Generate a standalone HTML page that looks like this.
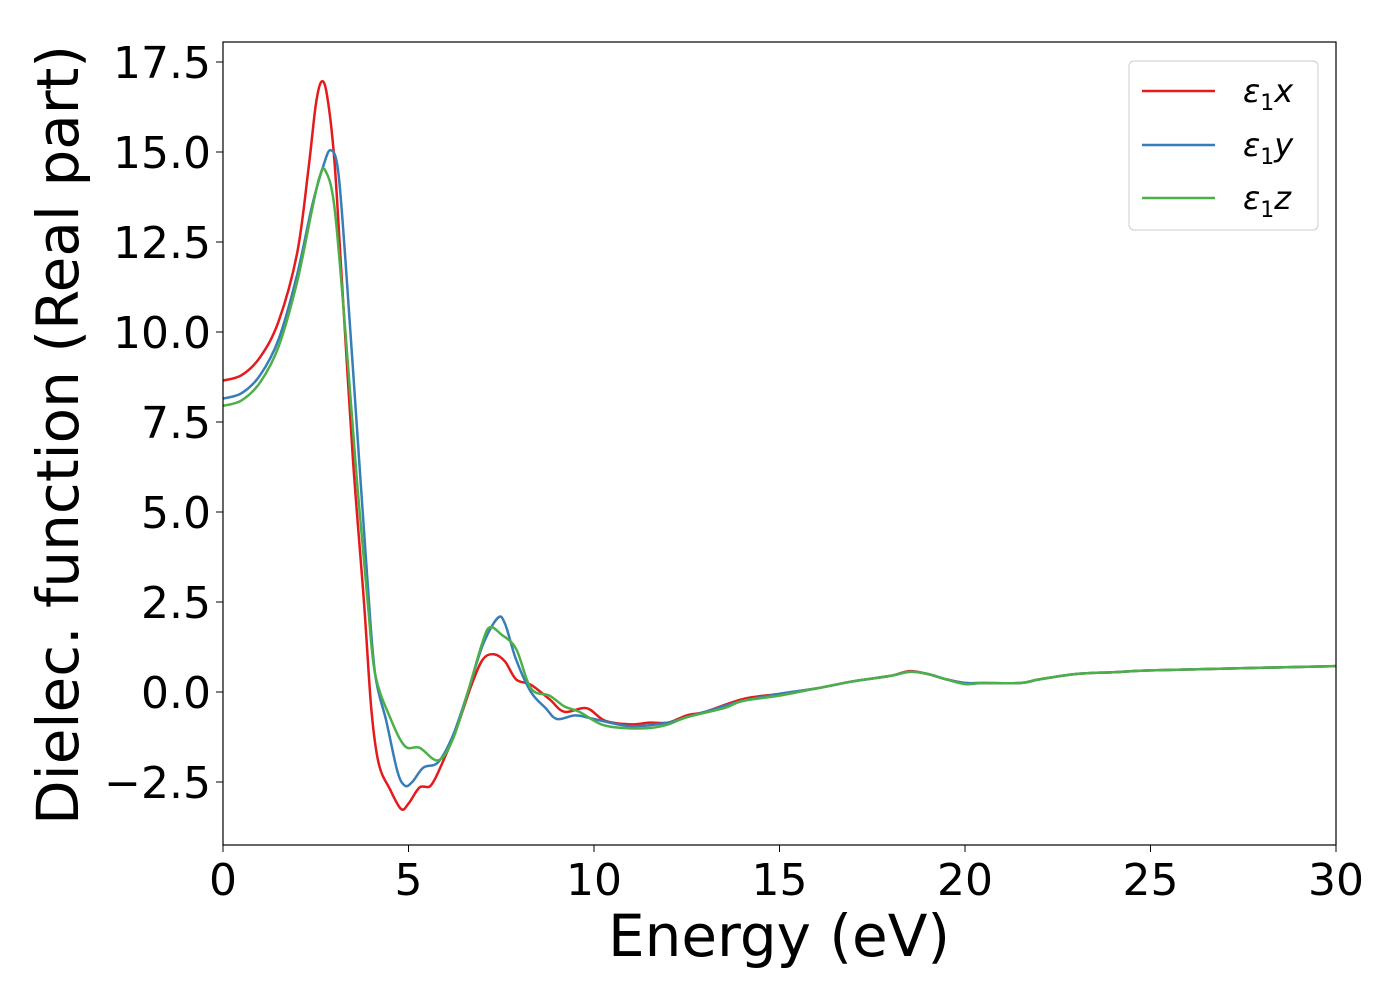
<!DOCTYPE html>
<html><head><meta charset="utf-8"><style>
body{margin:0;background:#fff}
svg{font-family:"DejaVu Sans","Liberation Sans",sans-serif}
</style></head><body>
<svg width="1400" height="1000" xmlns="http://www.w3.org/2000/svg">
<rect width="1400" height="1000" fill="#fff"/>
<g id="plot"></g>
<rect x="223" y="42" width="1113" height="803" fill="none" stroke="#000" stroke-width="1.2"/>
<g id="ticks"></g>
<text x="779" y="956" text-anchor="middle" font-size="58">Energy (eV)</text>
<text transform="translate(78,435) rotate(-90)" text-anchor="middle" font-size="58">Dielec. function (Real part)</text>
<g>
<rect x="1129" y="61" width="189" height="169" rx="5" fill="#fff" stroke="#ccc"/>
<line x1="1142" y1="91" x2="1215" y2="91" stroke="#e41a1c" stroke-width="2.5"/>
<line x1="1142" y1="145" x2="1215" y2="145" stroke="#377eb8" stroke-width="2.5"/>
<line x1="1142" y1="198" x2="1215" y2="198" stroke="#4daf4a" stroke-width="2.5"/>
<text x="1243" y="102" font-size="32" font-style="italic">ε<tspan font-style="normal" font-size="22" dy="8">1</tspan><tspan dy="-8">x</tspan></text>
<text x="1243" y="156" font-size="32" font-style="italic">ε<tspan font-style="normal" font-size="22" dy="8">1</tspan><tspan dy="-8">y</tspan></text>
<text x="1243" y="209" font-size="32" font-style="italic">ε<tspan font-style="normal" font-size="22" dy="8">1</tspan><tspan dy="-8">z</tspan></text>
</g>
</svg>
<script>
const xTicks=[0,5,10,15,20,25,30];
const yTicks=[-2.5,0,2.5,5,7.5,10,12.5,15,17.5];
const redE=[0,0.5,1,1.5,2,2.3,2.5,2.65,2.8,3.0,3.2,3.5,3.8,4.0,4.2,4.5,4.8,5.0,5.3,5.6,5.9,6.3,6.7,7.0,7.3,7.6,7.9,8.3,8.8,9.2,9.8,10.3,11,11.5,12,12.5,13,14,15,16,17,18,18.5,19,19.5,20,20.5,21.5,22,23,24,25,27,30];
const redV=[8.65,8.8,9.3,10.3,12.2,14.5,16.3,16.95,16.6,14.8,11.5,6.5,2.5,-0.5,-2.0,-2.7,-3.25,-3.1,-2.65,-2.6,-2.0,-1.0,0.2,0.9,1.05,0.85,0.35,0.2,-0.2,-0.55,-0.45,-0.8,-0.9,-0.85,-0.85,-0.65,-0.55,-0.2,-0.05,0.1,0.3,0.45,0.58,0.5,0.35,0.25,0.25,0.25,0.35,0.5,0.55,0.6,0.65,0.72];
const blueE=[0,0.5,1,1.5,2,2.4,2.7,2.9,3.1,3.3,3.6,3.9,4.1,4.4,4.7,4.9,5.1,5.4,5.8,6.2,6.6,7.0,7.4,7.6,7.9,8.3,8.7,9.0,9.5,10,11,12,12.5,13,14,15,16,17,18,18.5,19,19.5,20,20.5,21.5,22,23,24,25,27,30];
const blueV=[8.15,8.3,8.8,9.8,11.6,13.5,14.6,15.05,14.5,12,7.5,3,0.5,-0.8,-2.2,-2.6,-2.5,-2.1,-1.95,-1.2,0.0,1.3,2.05,1.9,0.9,0.0,-0.45,-0.75,-0.65,-0.75,-0.95,-0.85,-0.7,-0.55,-0.25,-0.05,0.1,0.3,0.45,0.56,0.5,0.35,0.25,0.25,0.25,0.35,0.5,0.55,0.6,0.65,0.72];
const greenE=[0,0.5,1,1.5,2,2.4,2.6,2.75,3.0,3.3,3.6,3.9,4.1,4.5,4.9,5.3,5.8,6.2,6.6,7.0,7.2,7.5,7.9,8.3,8.8,9.2,9.6,10.2,10.8,11.5,12,12.5,13.5,14,15,16,17,18,18.5,19,19.5,20,20.5,21.5,22,23,24,25,27,30];
const greenV=[7.95,8.1,8.6,9.6,11.4,13.4,14.3,14.5,13.5,10,6,2.5,0.5,-0.7,-1.5,-1.55,-1.9,-1.3,0.0,1.4,1.8,1.6,1.2,0.1,-0.1,-0.4,-0.55,-0.9,-1.0,-1.0,-0.9,-0.7,-0.45,-0.25,-0.1,0.1,0.3,0.45,0.56,0.5,0.35,0.22,0.25,0.25,0.35,0.5,0.55,0.6,0.65,0.72];
const NS='http://www.w3.org/2000/svg';
function xs(e){return 223+e*(1113/30);}
function ys(v){return 692-v*36;}
function pathFor(E,V){
 const p=E.map((e,i)=>[xs(e),ys(V[i])]);
 let d='M'+p[0][0]+','+p[0][1];
 for(let i=0;i<p.length-1;i++){
  const p0=p[Math.max(0,i-1)],p1=p[i],p2=p[i+1],p3=p[Math.min(p.length-1,i+2)];
  const c1=[p1[0]+(p2[0]-p0[0])/6,p1[1]+(p2[1]-p0[1])/6];
  const c2=[p2[0]-(p3[0]-p1[0])/6,p2[1]-(p3[1]-p1[1])/6];
  d+=' C'+c1+' '+c2+' '+p2;
 }
 return d;
}
const plot=document.getElementById('plot');
[[redE,redV,'#e41a1c','series-eps1x'],[blueE,blueV,'#377eb8','series-eps1y'],[greenE,greenV,'#4daf4a','series-eps1z']].forEach(s=>{
 const el=document.createElementNS(NS,'path');
 el.setAttribute('d',pathFor(s[0],s[1]));
 el.setAttribute('fill','none');el.setAttribute('stroke',s[2]);el.setAttribute('stroke-width','2.5');
 
 
 plot.appendChild(el);
});
const tg=document.getElementById('ticks');
xTicks.forEach(t=>{
 const l=document.createElementNS(NS,'line');
 l.setAttribute('x1',xs(t));l.setAttribute('x2',xs(t));l.setAttribute('y1',845);l.setAttribute('y2',852);l.setAttribute('stroke','#000');
 
 
 tg.appendChild(l);
 const tx=document.createElementNS(NS,'text');
 tx.setAttribute('x',xs(t));tx.setAttribute('y',895);tx.setAttribute('text-anchor','middle');tx.setAttribute('font-size','44');
 tx.textContent=t;
 
 
 tg.appendChild(tx);
});
yTicks.forEach(t=>{
 const l=document.createElementNS(NS,'line');
 l.setAttribute('x1',216);l.setAttribute('x2',223);l.setAttribute('y1',ys(t));l.setAttribute('y2',ys(t));l.setAttribute('stroke','#000');
 
 
 tg.appendChild(l);
 const tx=document.createElementNS(NS,'text');
 tx.setAttribute('x',211);tx.setAttribute('y',ys(t)+16);tx.setAttribute('text-anchor','end');tx.setAttribute('font-size','44');
 tx.textContent=(t<0?'\u2212':'')+Math.abs(t).toFixed(1);
 
 
 tg.appendChild(tx);
});
</script>
</body></html>
